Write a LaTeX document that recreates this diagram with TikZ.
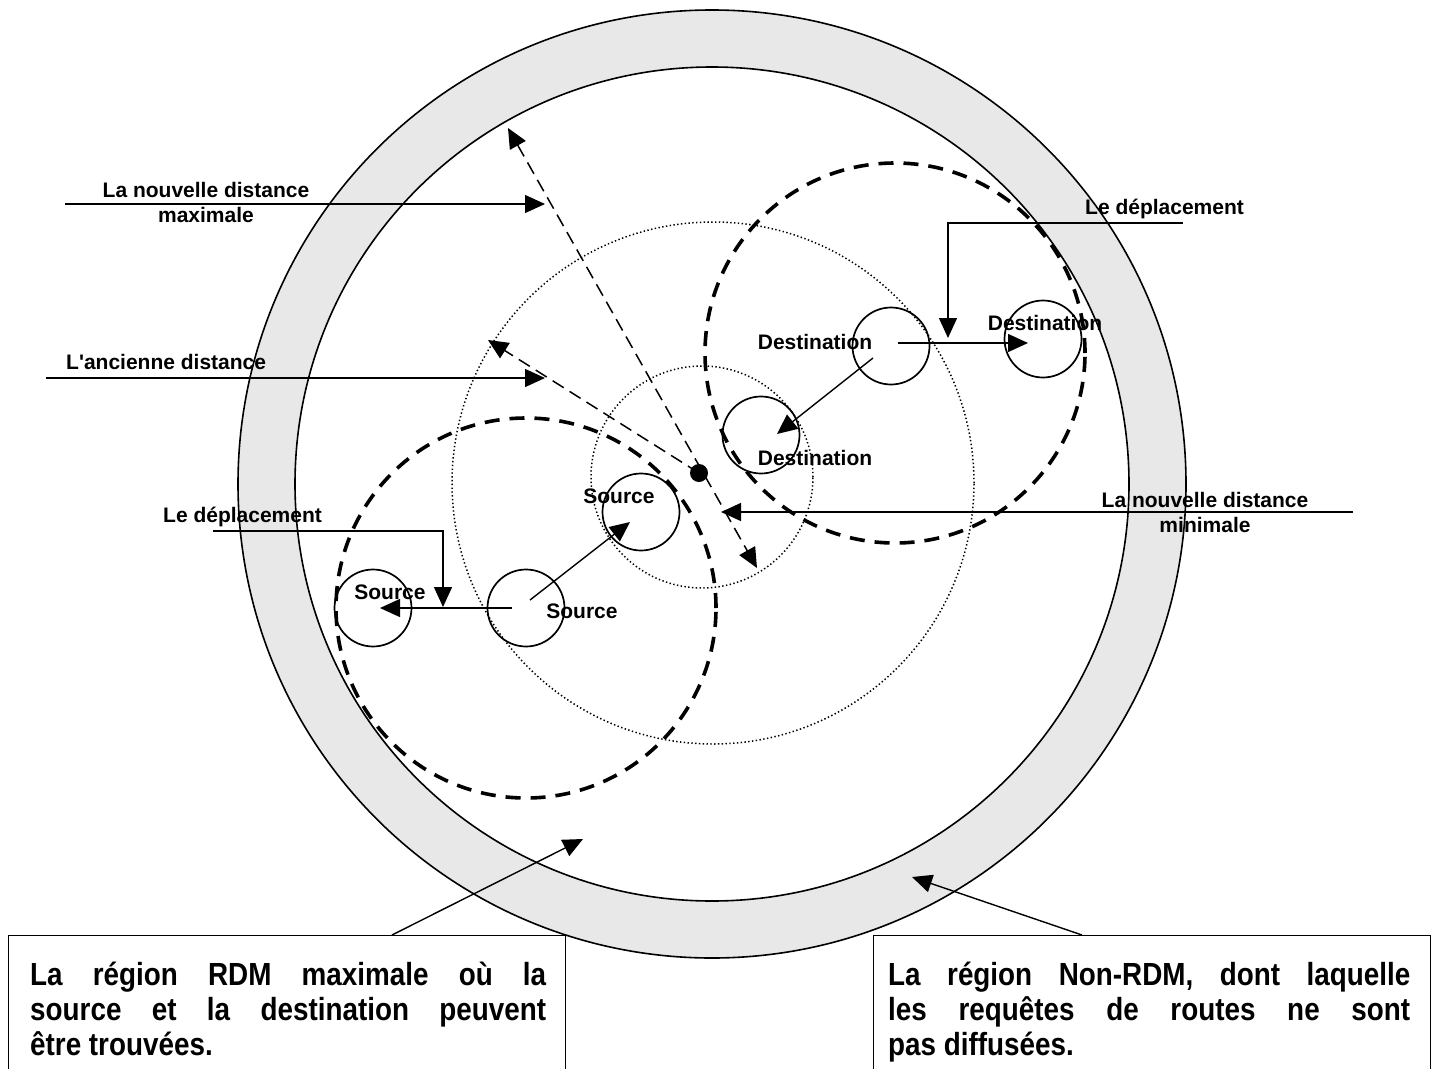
\documentclass[tikz,border=0pt]{standalone}
\usepackage{fontspec}
\newfontfamily\arialf{Liberation Sans}
\newfontfamily\boxf{Liberation Sans}[FakeStretch=0.87]
\usetikzlibrary{arrows.meta}
\definecolor{ringgrey}{HTML}{E8E8E8}
\begin{document}
\begin{tikzpicture}[x=1pt,y=-1pt,
  thinline/.style={line width=1.4pt},
  arr/.style={thinline,-{Triangle[length=20pt,width=18pt]}},
  ringline/.style={line width=1.6pt},
  smallc/.style={circle,draw,line width=1.7pt,minimum size=77pt,inner sep=0pt},
  bolddash/.style={line width=3.6pt,dash pattern=on 15pt off 10pt},
  thindash/.style={line width=1.5pt,dash pattern=on 13pt off 7pt},
  dotline/.style={line width=1.5pt,dash pattern=on 1.4pt off 2.4pt},
  lbl/.style={font=\arialf\fontsize{21}{25}\selectfont\bfseries,inner sep=0pt},
  boxtext/.style={font=\boxf\fontsize{32}{35}\selectfont\bfseries,inner sep=0pt,align=justify,anchor=base west},
  tbox/.style={draw,thinline,fill=white,minimum width=557pt,minimum height=160pt,anchor=north west,inner sep=0pt},
]
\useasboundingbox (0,0) rectangle (1437,1068);
% outer grey ring
\fill[ringgrey,even odd rule] (712,484) circle (474pt) (712,484) circle (417pt);
\node[circle,draw,ringline,minimum size=948pt,inner sep=0pt] (outer) at (712,484) {};
\node[circle,draw,ringline,minimum size=834pt,inner sep=0pt] (inner) at (712,484) {};
% dotted circles
\node[circle,draw,dotline,minimum size=522pt,inner sep=0pt] (bigdot) at (713,483) {};
\node[circle,draw,dotline,minimum size=222pt,inner sep=0pt] (smalldot) at (702,477) {};
% bold dashed circles
\node[circle,draw,bolddash,minimum size=380pt,inner sep=0pt] (destzone) at (895,353) {};
\node[circle,draw,bolddash,minimum size=380pt,inner sep=0pt] (srczone) at (526,608) {};
% small circles
\node[smallc] (d1) at (891,346) {};
\node[smallc] (d2) at (1043,339) {};
\node[smallc] (d3) at (761,435) {};
\node[smallc] (s1) at (641,512) {};
\node[smallc] (s2) at (526,608) {};
\node[smallc] (s3) at (373,608) {};
% centre dot
\node[circle,fill,minimum size=18pt,inner sep=0pt] (dot) at (699,473) {};
% coordinates
\coordinate (maxA) at (65,204);   \coordinate (maxB) at (545,204);
\coordinate (oldA) at (46,378);   \coordinate (oldB) at (545,378);
\coordinate (minA) at (1353,512); \coordinate (minB) at (721,512);
\coordinate (dlA) at (213,531);   \coordinate (dlK) at (443,531); \coordinate (dlB) at (443,607);
\coordinate (drA) at (1183,223);  \coordinate (drK) at (948,223); \coordinate (drB) at (948,338);
\coordinate (dmA) at (898,343);   \coordinate (dmB) at (1028,343);
\coordinate (ddA) at (873,358);   \coordinate (ddB) at (777,434);
\coordinate (sdA) at (530,600);   \coordinate (sdB) at (630,522);
\coordinate (shA) at (512,608);   \coordinate (shB) at (380,608);
\coordinate (newA) at (508,128);  \coordinate (newB) at (757,568);
\coordinate (oldT) at (488,340);
\coordinate (plA) at (392,935);   \coordinate (plB) at (583,839);
\coordinate (prA) at (1082,935);  \coordinate (prB) at (912,877);
% dashed distance arrows
\draw[thindash,{Triangle[length=20pt,width=18pt]}-{Triangle[length=20pt,width=18pt]}] (newA) -- (newB);
\draw[thindash,-{Triangle[length=20pt,width=18pt]}] (dot.center) -- (oldT);
% movement arrows
\draw[arr] (dmA) -- (dmB);
\draw[arr] (ddA) -- (ddB);
\draw[arr] (sdA) -- (sdB);
\draw[arr] (shA) -- (shB);
% label arrows
\draw[arr] (maxA) -- (maxB);
\draw[arr] (oldA) -- (oldB);
\draw[arr] (minA) -- (minB);
\draw[arr] (dlA) -- (dlK) -- (dlB);
\draw[arr] (drA) -- (drK) -- (drB);
% labels
\node[lbl,align=center] (tmax) at (206,202) {La nouvelle distance\\maximale};
\node[lbl,anchor=west] (told) at (66,362) {L'ancienne distance};
\node[lbl,align=center] (tmin) at (1205,512) {La nouvelle distance\\minimale};
\node[lbl,anchor=west] (tdl) at (163,517) {Le déplacement};
\node[lbl,anchor=west] (tdr) at (1085,209) {Le déplacement};
\node[lbl] (td1) at (815,342) {Destination};
\node[lbl] (td2) at (1045,323) {Destination};
\node[lbl] (td3) at (815,458) {Destination};
\node[lbl] (ts1) at (619,496) {Source};
\node[lbl] (ts2) at (582,611) {Source};
\node[lbl] (ts3) at (390,592) {Source};
% bottom boxes
\node[tbox] (boxL) at (8,935) {};
\node[tbox] (boxR) at (873,935) {};
\draw[arr] (plA) -- (plB);
\draw[arr] (prA) -- (prB);
\node[boxtext,text width=516pt] (txL) at (30,985) {La région RDM maximale où la\linebreak source et la destination peuvent\linebreak être trouvées.};
\node[boxtext,text width=522pt] (txR) at (888,985) {La région Non-RDM, dont laquelle\linebreak les requêtes de routes ne sont\linebreak pas diffusées.};
\end{tikzpicture}
\end{document}
